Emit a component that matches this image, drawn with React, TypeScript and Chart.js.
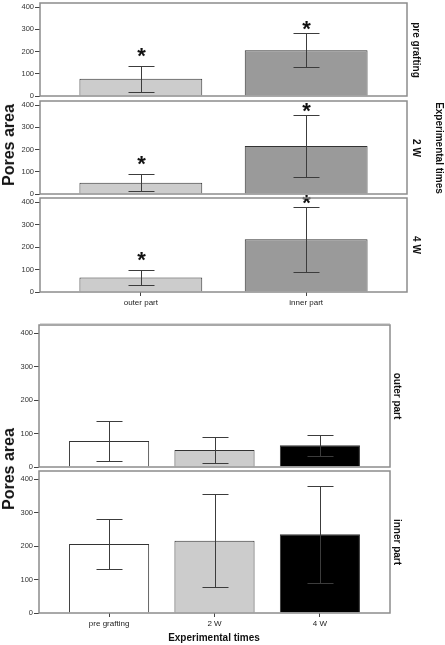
import React, { useEffect, useRef } from "react";
import { Chart, registerables } from "chart.js";

Chart.register(...registerables);

// ---- data ----
const tissueParts = ["outer part", "inner part"];
const timePoints = ["pre grafting", "2 W", "4 W"];
const outerMeans = [78, 51, 65];
const outerLow = [19, 13, 32];
const outerHigh = [137, 90, 97];
const innerMeans = [206, 216, 235];
const innerLow = [132, 77, 91];
const innerHigh = [281, 356, 378];
const yTicks = [0, 100, 200, 300, 400];

const partColors = ["#cccccc", "#9a9a9a"];
const timeColors = ["#ffffff", "#cccccc", "#000000"];

const FONT = "'Liberation Sans', Arial, Helvetica, sans-serif";

const overlayPlugin = {
  id: "overlay",
  afterDatasetsDraw(chart: any, _args: any, opts: any) {
    const { ctx, chartArea: a, scales } = chart;
    const x = scales.x;
    const y = scales.y;
    ctx.save();
    ctx.strokeStyle = "#3c3c3c";
    ctx.lineWidth = 1;
    const cap = opts.cap;
    opts.lows.forEach((lo: number, i: number) => {
      const cx = Math.round(x.getPixelForValue(i)) + 0.5;
      const yl = Math.round(y.getPixelForValue(lo)) + 0.5;
      const yh = Math.round(y.getPixelForValue(opts.highs[i])) + 0.5;
      ctx.beginPath();
      ctx.moveTo(cx, yl);
      ctx.lineTo(cx, yh);
      ctx.moveTo(cx - cap, yh);
      ctx.lineTo(cx + cap, yh);
      ctx.moveTo(cx - cap, yl);
      ctx.lineTo(cx + cap, yl);
      ctx.stroke();
      if (opts.stars) {
        ctx.fillStyle = "#111";
        ctx.font = "bold 22px " + FONT;
        ctx.textAlign = "center";
        ctx.textBaseline = "alphabetic";
        ctx.fillText("*", cx, yh + opts.starShift[i]);
      }
    });
    ctx.strokeStyle = "#8c8c8c";
    ctx.lineWidth = 1.5;
    ctx.strokeRect(a.left, a.top, a.right - a.left, a.bottom - a.top);
    ctx.restore();
  },
};

type PanelProps = {
  labels: string[];
  values: number[];
  lows: number[];
  highs: number[];
  colors: string[];
  frameTop: number;
  zero: number;
  plotLeft: number;
  plotRight: number;
  yMax: number;
  xPad: number;
  barFrac: number;
  showX: boolean;
  stars?: boolean;
  starShift?: number[];
};

const PAD = 6;
const X_AXIS_H = 18;
const W = 445;

function Panel(p: PanelProps) {
  const ref = useRef<HTMLCanvasElement>(null);
  const plotH = p.zero - p.frameTop;
  const height = PAD + plotH + (p.showX ? X_AXIS_H : PAD);
  useEffect(() => {
    if (!ref.current) return;
    const chart = new Chart(ref.current, {
      type: "bar",
      data: {
        datasets: [
          {
            data: p.values.map((v, i) => ({ x: i, y: v })),
            backgroundColor: p.colors,
            borderColor: "#333333",
            borderWidth: 1,
            categoryPercentage: 1,
            barPercentage: p.barFrac,
          },
        ],
      },
      options: {
        animation: false,
        responsive: false,
        devicePixelRatio: 1,
        layout: {
          padding: {
            top: PAD,
            left: 0,
            right: W - p.plotRight,
            bottom: p.showX ? 0 : PAD,
          },
        },
        plugins: {
          legend: { display: false },
          tooltip: { enabled: false },
          title: { display: false },
          overlay: {
            lows: p.lows,
            highs: p.highs,
            cap: 13,
            stars: !!p.stars,
            starShift: p.starShift || [],
          },
        } as any,
        scales: {
          x: {
            type: "linear",
            display: p.showX,
            offset: false,
            min: -p.xPad,
            max: p.labels.length - 1 + p.xPad,
            afterBuildTicks: (s: any) => {
              s.ticks = p.labels.map((_, i) => ({ value: i }));
            },
            grid: {
              display: true,
              offset: false,
              drawOnChartArea: false,
              drawTicks: true,
              tickLength: 4,
              color: "#444",
            },
            border: { display: false },
            ticks: {
              font: { family: FONT, size: 8 },
              color: "#222",
              padding: 2,
              maxRotation: 0,
              autoSkip: false,
              callback: (v: any) => p.labels[v],
            },
            afterFit: (s: any) => {
              if (p.showX) s.height = X_AXIS_H;
            },
          },
          y: {
            min: 0,
            max: p.yMax,
            afterFit: (s: any) => {
              s.width = p.plotLeft;
            },
            afterBuildTicks: (s: any) => {
              s.ticks = yTicks.map((v) => ({ value: v }));
            },
            ticks: {
              font: { family: FONT, size: 7.5 },
              color: "#333",
              padding: 1,
            },
            grid: {
              drawOnChartArea: false,
              drawTicks: true,
              tickLength: 5,
              color: "#444",
            },
            border: { display: false },
          },
        },
      } as any,
      plugins: [overlayPlugin],
    });
    return () => chart.destroy();
  }, []);
  return (
    <canvas
      ref={ref}
      width={W}
      height={height}
      style={{
        position: "absolute",
        left: 0,
        top: p.frameTop - PAD,
        width: W,
        height,
      }}
    />
  );
}

function Label(props: {
  text: string;
  x: number;
  y: number;
  size: number;
  rot: number;
}) {
  return (
    <div
      style={{
        position: "absolute",
        left: props.x,
        top: props.y,
        transform: `translate(-50%, -50%) rotate(${props.rot}deg)`,
        whiteSpace: "nowrap",
        fontFamily: FONT,
        fontWeight: "bold",
        fontSize: props.size,
        lineHeight: 1,
        color: "#111",
      }}
    >
      {props.text}
    </div>
  );
}

export default function App() {
  const topPanels = [
    { frameTop: 3, zero: 96 },
    { frameTop: 101, zero: 194 },
    { frameTop: 198, zero: 292 },
  ];
  const bottomPanels = [
    { frameTop: 325, zero: 467 },
    { frameTop: 471, zero: 613 },
  ];
  return (
    <div
      style={{
        position: "fixed",
        left: 0,
        top: 0,
        width: 445,
        height: 645,
        background: "#fff",
        overflow: "hidden",
      }}
    >
      {timePoints.map((t, i) => (
        <Panel
          key={"t" + i}
          labels={tissueParts}
          values={[outerMeans[i], innerMeans[i]]}
          lows={[outerLow[i], innerLow[i]]}
          highs={[outerHigh[i], innerHigh[i]]}
          colors={partColors}
          frameTop={topPanels[i].frameTop}
          zero={topPanels[i].zero}
          plotLeft={40}
          plotRight={407}
          yMax={418}
          xPad={0.61}
          barFrac={0.743}
          showX={i === 2}
          stars={true}
          starShift={[-4, 2]}
        />
      ))}
      {timePoints.map((t, i) => (
        <Label
          key={"tl" + i}
          text={t}
          x={416}
          y={(topPanels[i].frameTop + topPanels[i].zero) / 2}
          size={10}
          rot={90}
        />
      ))}
      <Label text="Experimental times" x={439} y={148} size={10} rot={90} />
      <Label text="Pores area" x={9} y={145} size={16} rot={-90} />

      <div
        style={{
          position: "absolute",
          left: 40,
          top: 323,
          width: 350,
          height: 1,
          background: "#d8d8d8",
        }}
      />

      {[
        { means: outerMeans, lows: outerLow, highs: outerHigh },
        { means: innerMeans, lows: innerLow, highs: innerHigh },
      ].map((s, i) => (
        <Panel
          key={"b" + i}
          labels={timePoints}
          values={s.means}
          lows={s.lows}
          highs={s.highs}
          colors={timeColors}
          frameTop={bottomPanels[i].frameTop}
          zero={bottomPanels[i].zero}
          plotLeft={39}
          plotRight={390}
          yMax={424}
          xPad={0.665}
          barFrac={0.76}
          showX={i === 1}
        />
      ))}
      {tissueParts.map((t, i) => (
        <Label
          key={"bl" + i}
          text={t}
          x={397}
          y={(bottomPanels[i].frameTop + bottomPanels[i].zero) / 2}
          size={10}
          rot={90}
        />
      ))}
      <Label text="Pores area" x={9} y={469} size={16} rot={-90} />
      <Label text="Experimental times" x={214} y={638} size={10} rot={0} />
    </div>
  );
}
